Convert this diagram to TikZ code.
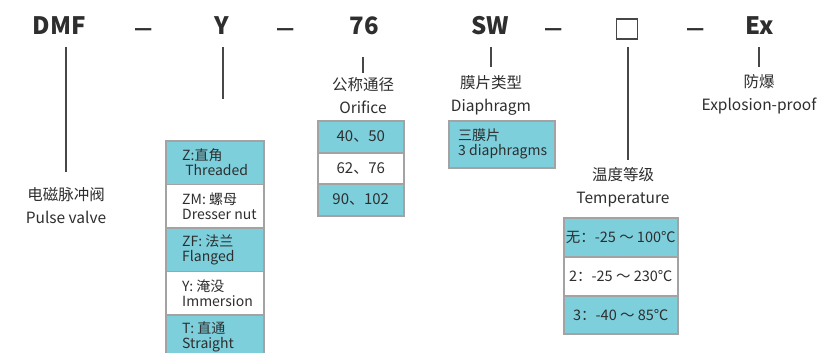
\documentclass[tikz,border=0pt]{standalone}
\usepackage{fontspec}
\setmainfont{Noto Sans CJK SC}
\definecolor{cyanfill}{HTML}{7DCFDC}
\definecolor{cellborder}{HTML}{A3A3A3}
\definecolor{linegray}{HTML}{474747}
\definecolor{txt}{HTML}{2E2E2E}
\begin{document}
\begin{tikzpicture}[x=1pt,y=-1pt,
  code/.style={font=\fontsize{24}{24}\selectfont\bfseries, text=txt, inner sep=0pt},
  dashmark/.style={font=\fontsize{20}{20}\selectfont\bfseries, text=txt, inner sep=0pt},
  lbl/.style={font=\fontsize{15.5}{23}\selectfont, text=txt, align=center, inner sep=0pt},
  conn/.style={draw=linegray, line width=2pt},
  cell/.style={draw=cellborder, line width=1.5pt, inner sep=0pt},
  bluecell/.style={cell, fill=cyanfill},
  whitecell/.style={cell, fill=white},
  celltxt/.style={font=\fontsize{14}{15}\selectfont, text=txt, align=left, inner sep=0pt},
  ctrtxt/.style={font=\fontsize{15}{15}\selectfont, text=txt, inner sep=0pt},
  temptxt/.style={font=\fontsize{14.5}{15}\selectfont, text=txt, inner sep=0pt}
]
\useasboundingbox (0,0) rectangle (824,353);
\fill[white] (0,0) rectangle (824,353);
\begin{scope}
\clip (0,0) rectangle (824,353);
% code line
\node[code] (dmf) at (59.5,26) {DMF};
\node[dashmark] (d1) at (144,32.5) {—};
\node[code] (y) at (221.5,26) {Y};
\node[dashmark] (d2) at (286,32.5) {—};
\node[code] (n76) at (364,26) {76};
\node[code] (sw) at (490.5,26) {SW};
\node[dashmark] (d3) at (554,32.5) {—};
\node[draw=linegray, line width=1.5pt, minimum width=21pt, minimum height=20pt, inner sep=0pt] (sq) at (627,29) {};
\node[dashmark] (d4) at (696,32.5) {—};
\node[code] (ex) at (759.5,26) {Ex};

% labels
\node[lbl] (pv) at (66,206) {电磁脉冲阀\\Pulse valve};
\node[lbl] (orf) at (363,96) {公称通径\\Orifice};
\node[lbl] (dia) at (491,95) {膜片类型\\Diaphragm};
\node[lbl] (tmp) at (623,187.5) {温度等级\\Temperature};
\node[lbl] (exl) at (759,94.5) {防爆\\Explosion-proof};

% connector end points
\coordinate (c1a) at (66,47);   \coordinate (c1b) at (66,172);
\coordinate (c2a) at (223,47);  \coordinate (c2b) at (223,99);
\coordinate (c3a) at (363,57);  \coordinate (c3b) at (363,73);
\coordinate (c4a) at (491,47);  \coordinate (c4b) at (491,67);
\coordinate (c5a) at (628,47);  \coordinate (c5b) at (628,160);
\coordinate (c6a) at (759,47);  \coordinate (c6b) at (759,67);
\draw[conn] (c1a) -- (c1b);
\draw[conn] (c2a) -- (c2b);
\draw[conn] (c3a) -- (c3b);
\draw[conn] (c4a) -- (c4b);
\draw[conn] (c5a) -- (c5b);
\draw[conn] (c6a) -- (c6b);

% Y table
\node[bluecell, anchor=north west, minimum width=98pt, minimum height=43.5pt] (y1) at (165,140) {};
\node[whitecell, anchor=north west, minimum width=98pt, minimum height=43.5pt] (y2) at (165,183.5) {};
\node[bluecell, anchor=north west, minimum width=98pt, minimum height=43.5pt] (y3) at (165,227) {};
\node[whitecell, anchor=north west, minimum width=98pt, minimum height=43.5pt] (y4) at (165,270.5) {};
\node[bluecell, anchor=north west, minimum width=98pt, minimum height=43.5pt] (y5) at (165,314) {};
\node[celltxt, anchor=west] (t1) at ([xshift=17pt]y1.west) {Z:直角\\\ Threaded};
\node[celltxt, anchor=west] (t2) at ([xshift=17pt]y2.west) {ZM: 螺母\\Dresser nut};
\node[celltxt, anchor=west] (t3) at ([xshift=17pt]y3.west) {ZF: 法兰\\Flanged};
\node[celltxt, anchor=west] (t4) at ([xshift=17pt]y4.west) {Y: 淹没\\Immersion};
\node[celltxt, anchor=west] (t5) at ([xshift=17pt]y5.west) {T: 直通\\Straight};

% Orifice table
\node[bluecell, anchor=north west, minimum width=86pt, minimum height=32pt] (o1) at (317,120) {};
\node[whitecell, anchor=north west, minimum width=86pt, minimum height=31pt] (o2) at (317,152) {};
\node[bluecell, anchor=north west, minimum width=86pt, minimum height=32pt] (o3) at (317,183) {};
\node[ctrtxt] at (o1.center) {40、50};
\node[ctrtxt] at (o2.center) {62、76};
\node[ctrtxt] at (o3.center) {90、102};

% Diaphragm box
\node[bluecell, anchor=north west, minimum width=106pt, minimum height=47pt] (db) at (448,120) {};
\node[celltxt, anchor=west] (dt) at ([xshift=10pt]db.west) {三膜片\\3 diaphragms};

% Temperature table
\node[bluecell, anchor=north west, minimum width=114pt, minimum height=39pt] (tt1) at (563,217) {};
\node[whitecell, anchor=north west, minimum width=114pt, minimum height=39pt] (tt2) at (563,256) {};
\node[bluecell, anchor=north west, minimum width=114pt, minimum height=38pt] (tt3) at (563,295) {};
\node[temptxt] at (tt1.center) {无：-25 ～ 100℃};
\node[temptxt] at (tt2.center) {2：-25 ～ 230℃};
\node[temptxt] at (tt3.center) {3：-40 ～ 85℃};
\end{scope}
\end{tikzpicture}
\end{document}
